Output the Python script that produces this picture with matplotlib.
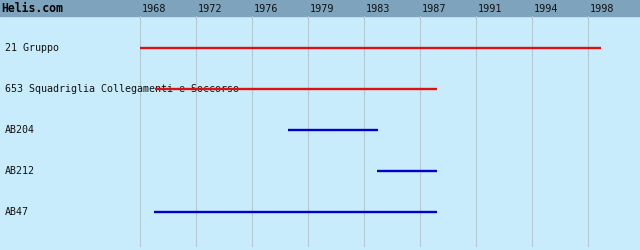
import numpy as np
from matplotlib import pyplot as plt
from matplotlib import transforms

# units and their service spans (decimal years)
units = ["21 Gruppo", "653 Squadriglia Collegamenti e Soccorso", "AB204", "AB212", "AB47"]
starts = [1968.0, 1969.0, 1977.9, 1983.9, 1968.95]
ends = [1998.9, 1987.9, 1983.95, 1987.9, 1987.9]
colors = ["#dd1111", "#dd1111", "#0000cc", "#0000cc", "#0000cc"]

tick_labels = ["1968", "1972", "1976", "1979", "1983", "1987", "1991", "1994", "1998"]
first_year, last_year = 1968, 1998

W, H = 640, 250
fig = plt.figure(figsize=(W / 100, H / 100), dpi=100)
fig.patch.set_facecolor("#c8ecfc")
ax = fig.add_axes([0, 0, 1, 1])
ax.set_facecolor("#c8ecfc")
ax.axis("off")

# pixel layout: first_year at x=140, last_year at x=588
ppy = (588 - 140) / (last_year - first_year)
ax.set_xlim(first_year - 140 / ppy, last_year + (W - 588) / ppy)
row_px, row0 = 41, 48
ax.set_ylim((H - row0) / row_px, -row0 / row_px)

def ypx(p):
    return (p - row0) / row_px

# header band
ax.axhspan(ax.get_ylim()[1], ypx(16), color="#7ea4bd", zorder=1)
tick_years = np.linspace(first_year, last_year, len(tick_labels))
for yr, lab in zip(tick_years, tick_labels):
    ax.plot([yr, yr], [ypx(16), ypx(246)], color="#b4c8d4", lw=0.8, zorder=2)
    ax.text(yr + 1.5 / ppy, ypx(9), lab, family="DejaVu Sans Mono", fontsize=7.3,
            va="center", ha="left", color="#111111", zorder=5)

lab_tr = transforms.blended_transform_factory(ax.transAxes, ax.transData)
ax.text(1 / W, ypx(8), "Helis.com", transform=lab_tr,
        family="DejaVu Sans Mono", fontweight="bold", fontsize=8.3, va="center", ha="left", zorder=5)

for i, (u, s, e, c) in enumerate(zip(units, starts, ends, colors)):
    ax.text(5 / W, i, u, transform=lab_tr, family="DejaVu Sans Mono", fontsize=7.2,
            va="center", ha="left", color="#111111", zorder=3)
    ax.plot([s, e], [i, i], color=c, lw=1.7, solid_capstyle="butt", zorder=4)

fig.savefig("out.png", dpi=100, facecolor=fig.get_facecolor())
